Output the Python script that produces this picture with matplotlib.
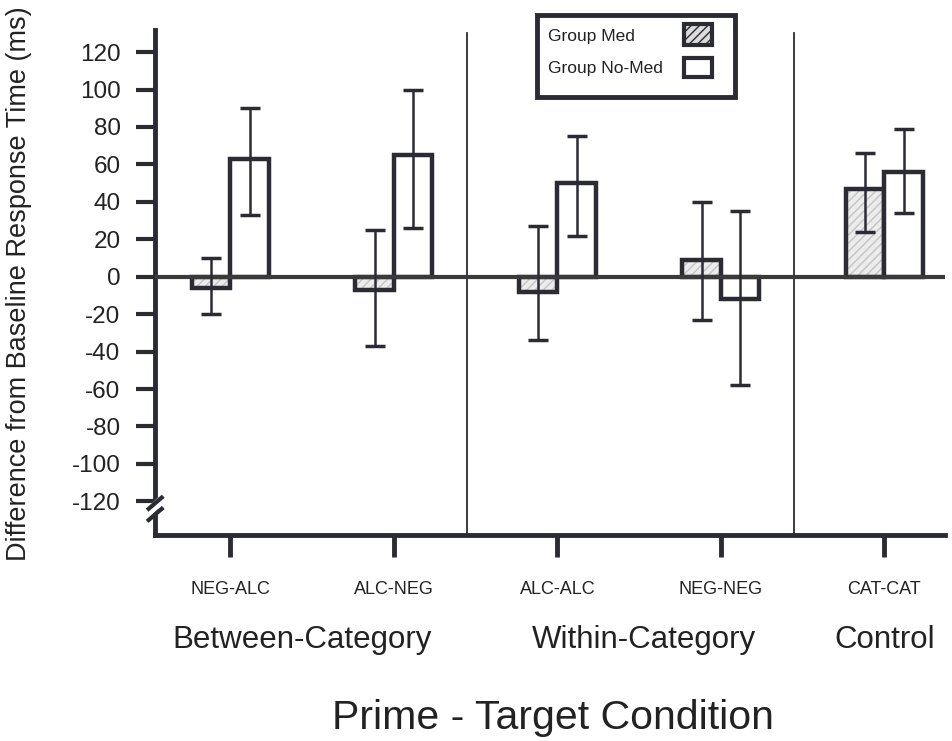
import matplotlib
matplotlib.use('Agg')
import matplotlib.pyplot as plt
from matplotlib.patches import Rectangle
import numpy as np

plt.rcParams['font.family'] = ['Liberation Sans', 'DejaVu Sans']
plt.rcParams['axes.unicode_minus'] = False

# values (ms)
conditions = ['NEG-ALC', 'ALC-NEG', 'ALC-ALC', 'NEG-NEG', 'CAT-CAT']
groups = ['Between-Category', 'Within-Category', 'Control']
group_pos = [0.44, 2.53, 4.0]
med = [-6, -7, -8, 9, 47]
med_lo = [-20, -37, -34, -23, 24]
med_hi = [10, 25, 27, 40, 66]
nomed = [63, 65, 50, -12, 56]
nomed_lo = [33, 26, 22, -58, 34]
nomed_hi = [90, 100, 75, 35, 79]
yticks = list(range(-120, 121, 20))
legend_labels = ['Group Med', 'Group No-Med']

ink = '#2b2b33'
txt = '#222222'
x = np.arange(len(conditions))
w = 0.235

fig = plt.figure(figsize=(9.53, 7.41), dpi=100)
ax = fig.add_axes([0.163, 0.278, 0.829, 0.682])
ax.set_xlim(-0.459, 4.373)
ax.set_ylim(-138, 132)

# Group Med: light hatched fill under a black frame
ax.bar(x - w / 2, med, w, color='#ececec', hatch='////', edgecolor='#c4c4c4', linewidth=0, zorder=2)
ax.bar(x - w / 2, med, w, fill=False, edgecolor=ink, linewidth=3.2, zorder=3)
ax.bar(x + w / 2, nomed, w, color='white', edgecolor=ink, linewidth=3.2, zorder=3)

med = np.array(med)
nomed = np.array(nomed)
ax.errorbar(x - w / 2, med, yerr=[med - np.array(med_lo), np.array(med_hi) - med],
            fmt='none', ecolor=ink, elinewidth=1.8, capsize=7, capthick=2.5, zorder=4)
ax.errorbar(x + w / 2, nomed, yerr=[nomed - np.array(nomed_lo), np.array(nomed_hi) - nomed],
            fmt='none', ecolor=ink, elinewidth=1.8, capsize=7, capthick=2.5, zorder=4)

ax.axhline(0, color='#3a3a3a', linewidth=3, zorder=3.5)
for sx in [1.45, 3.45]:
    ax.plot([sx, sx], [-138, 130], color=ink, linewidth=1.3, zorder=1)

for s in ['top', 'right']:
    ax.spines[s].set_visible(False)
for s in ['left', 'bottom']:
    ax.spines[s].set_linewidth(3.5)
    ax.spines[s].set_color(ink)

ax.set_yticks(yticks)
ax.tick_params(axis='y', direction='out', length=14, width=3, color=ink, labelsize=17.5,
               labelcolor=txt, pad=11)
ax.set_xticks(x)
ax.set_xticklabels([])
ax.tick_params(axis='x', direction='out', length=16, width=3.5, color=ink)
ax.set_ylabel('Difference from Baseline Response Time (ms)', fontsize=19.5, color=txt)
ax.yaxis.set_label_coords(-0.156, 0.497)

# axis break marks
ax.plot([-0.49, -0.43], [-125, -120], color='white', lw=6, clip_on=False, zorder=5)
for dy in [-127, -121]:
    ax.plot([-0.50, -0.42], [dy - 3, dy + 3], color=ink, lw=3, clip_on=False, zorder=6)

for i, c in enumerate(conditions):
    xf = (ax.transData.transform((i, 0))[0]) / fig.bbox.width
    fig.text(xf, 1 - 590 / 741, c, ha='center', va='center', fontsize=13, color=txt)
for g, gp in zip(groups, group_pos):
    xf = (ax.transData.transform((gp, 0))[0]) / fig.bbox.width
    fig.text(xf, 1 - 640 / 741, g, ha='center', va='center', fontsize=22.5, color=txt)
fig.text(0.58, 1 - 718 / 741, 'Prime - Target Condition', ha='center', va='center',
         fontsize=29.5, color=txt)

# boxed legend, text on the left and swatches on the right
W, H = 953, 741
fig.patches.append(Rectangle((537 / W, 1 - 97 / H), 198 / W, 82 / H, transform=fig.transFigure,
                             fill=False, edgecolor=ink, linewidth=3.5))
fig.patches.append(Rectangle((684 / W, 1 - 45 / H), 28 / W, 21 / H, transform=fig.transFigure,
                             facecolor='#dcdcdc', hatch='////', edgecolor=ink, linewidth=3))
fig.patches.append(Rectangle((684 / W, 1 - 77 / H), 28 / W, 19 / H, transform=fig.transFigure,
                             facecolor='white', edgecolor=ink, linewidth=3))
for lab, ly in zip(legend_labels, [37, 69]):
    fig.text(548 / W, 1 - ly / H, lab, ha='left', va='center', fontsize=12.5, color=txt)

fig.savefig('out.png', dpi=100, facecolor='white')
